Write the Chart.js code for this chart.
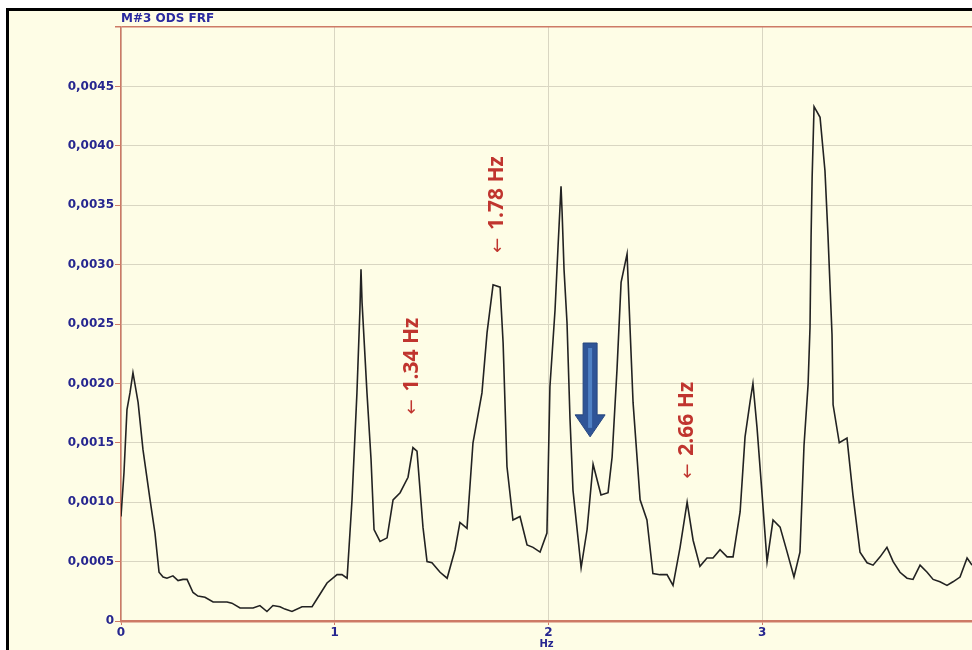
<!DOCTYPE html>
<html>
<head>
<meta charset="utf-8">
<script src="https://cdn.jsdelivr.net/npm/chart.js@4/dist/chart.umd.min.js"></script>
<style>
  html, body { margin: 0; padding: 0; background: #fff; }
  #wrap { position: relative; width: 972px; height: 650px; overflow: hidden; }
  #frame { position: absolute; left: 6px; top: 8px; width: 1000px; height: 700px;
           background: #FEFDE6; border-left: 3px solid #000; border-top: 3px solid #000; }
  canvas { position: absolute; left: 0; top: 0; }
</style>
</head>
<body>
<div id="wrap">
  <div id="frame"></div>
  <canvas id="frf" width="972" height="650"></canvas>
</div>
<script>
// chart data
const chartTitle = 'M#3 ODS FRF';
const xAxisTitle = 'Hz';

const freqHz = [
  0.000, 0.014, 0.028, 0.042, 0.056, 0.080, 0.103, 0.136, 0.159, 0.178,
  0.197, 0.215, 0.243, 0.267, 0.290, 0.309, 0.337, 0.360, 0.393, 0.431,
  0.496, 0.519, 0.557, 0.618, 0.650, 0.683, 0.711, 0.744, 0.767, 0.800,
  0.847, 0.894, 0.922, 0.964, 1.011, 1.034, 1.058, 1.081, 1.104, 1.118,
  1.123, 1.128, 1.151, 1.170, 1.184, 1.212, 1.245, 1.273, 1.306, 1.343,
  1.366, 1.385, 1.413, 1.432, 1.455, 1.493, 1.526, 1.563, 1.586, 1.619,
  1.647, 1.689, 1.713, 1.741, 1.774, 1.788, 1.806, 1.834, 1.867, 1.900,
  1.928, 1.961, 1.993, 2.007, 2.031, 2.045, 2.059, 2.064, 2.073, 2.087,
  2.101, 2.115, 2.153, 2.181, 2.209, 2.246, 2.279, 2.298, 2.321, 2.340,
  2.368, 2.377, 2.396, 2.429, 2.461, 2.489, 2.522, 2.555, 2.583, 2.616,
  2.649, 2.677, 2.709, 2.742, 2.770, 2.803, 2.836, 2.864, 2.897, 2.920,
  2.944, 2.957, 2.976, 3.000, 3.023, 3.051, 3.084, 3.117, 3.149, 3.177,
  3.196, 3.215, 3.224, 3.229, 3.234, 3.243, 3.271, 3.294, 3.308, 3.327,
  3.332, 3.361, 3.397, 3.425, 3.458, 3.491, 3.519, 3.552, 3.584, 3.613,
  3.645, 3.678, 3.706, 3.739, 3.772, 3.800, 3.832, 3.865, 3.893, 3.926,
  3.959, 3.982
];

const amplitude = [
  0.00088, 0.00125, 0.00178, 0.00192, 0.00209, 0.00184, 0.00144, 0.00102, 0.00074, 0.00041,
  0.00037, 0.00036, 0.00038, 0.00034, 0.00035, 0.00035, 0.00024, 0.00021, 0.00020, 0.00016,
  0.00016, 0.00015, 0.00011, 0.00011, 0.00013, 0.00008, 0.00013, 0.00012, 0.00010, 0.00008,
  0.00012, 0.00012, 0.00020, 0.00032, 0.00039, 0.00039, 0.00036, 0.00102, 0.00192, 0.00262,
  0.00296, 0.00268, 0.00192, 0.00136, 0.00077, 0.00067, 0.00070, 0.00102, 0.00108, 0.00121,
  0.00146, 0.00143, 0.00079, 0.00050, 0.00049, 0.00041, 0.00036, 0.00060, 0.00083, 0.00078,
  0.00150, 0.00192, 0.00243, 0.00283, 0.00281, 0.00234, 0.00130, 0.00085, 0.00088, 0.00064,
  0.00062, 0.00058, 0.00074, 0.00197, 0.00262, 0.00315, 0.00366, 0.00344, 0.00296, 0.00251,
  0.00170, 0.00110, 0.00045, 0.00077, 0.00132, 0.00106, 0.00108, 0.00138, 0.00212, 0.00285,
  0.00309, 0.00268, 0.00184, 0.00102, 0.00085, 0.00040, 0.00039, 0.00039, 0.00030, 0.00062,
  0.00100, 0.00068, 0.00046, 0.00053, 0.00053, 0.00060, 0.00054, 0.00054, 0.00092, 0.00155,
  0.00185, 0.00200, 0.00163, 0.00106, 0.00050, 0.00085, 0.00079, 0.00058, 0.00037, 0.00058,
  0.00148, 0.00199, 0.00247, 0.00323, 0.00374, 0.00433, 0.00424, 0.00379, 0.00325, 0.00241,
  0.00182, 0.00150, 0.00154, 0.00106, 0.00058, 0.00049, 0.00047, 0.00054, 0.00062, 0.00050,
  0.00041, 0.00036, 0.00035, 0.00047, 0.00041, 0.00035, 0.00033, 0.00030, 0.00033, 0.00037,
  0.00053, 0.00047
];

const xMin = 0, xMax = 3.982, xStep = 1;
const yMin = 0, yMax = 0.005, yStep = 0.0005;

// red peak notes (label, Hz, amplitude where the arrow starts)
const noteLabels = ['1.34 Hz', '1.78 Hz', '2.66 Hz'];
const noteHz = [1.36, 1.76, 2.65];
const noteAmp = [0.00174, 0.0031, 0.0012];

// blue down arrow
const markHz = 2.195, markTopAmp = 0.00234, markTipAmp = 0.00155;

const axisRed = '#CD7A66';
const gridGrey = '#D9D6C2';
const labelBlue = '#26268F';

const fmtAmp = v => {
  if (Math.abs(v) < 1e-12) return '0';
  if (v > yMax - 1e-9) return '';
  return v.toFixed(4).replace('.', ',');
};

const notesPlugin = {
  id: 'notes',
  afterDatasetsDraw(chart) {
    const { ctx, chartArea, scales: { x, y } } = chart;
    ctx.save();

    // title above the plot
    ctx.fillStyle = '#2A2AA0';
    ctx.font = 'bold 12px "DejaVu Sans"';
    ctx.textAlign = 'left';
    ctx.textBaseline = 'alphabetic';
    ctx.fillText(chartTitle, chartArea.left, 22);

    // rotated red labels: thin arrow, then bold text
    ctx.fillStyle = '#C0352F';
    ctx.textBaseline = 'middle';
    noteLabels.forEach((txt, i) => {
      ctx.save();
      ctx.translate(x.getPixelForValue(noteHz[i]), y.getPixelForValue(noteAmp[i]));
      ctx.rotate(-Math.PI / 2);
      ctx.font = '18px "DejaVu Sans"';
      ctx.fillText('\u2190', 0, 1);
      const aw = ctx.measureText('\u2190 ').width;
      ctx.font = 'bold 21px "Open Sans"';
      ctx.fillText(txt, aw + 2, 0);
      ctx.restore();
    });

    // blue block arrow
    const ax = x.getPixelForValue(markHz);
    const top = y.getPixelForValue(markTopAmp);
    const tip = y.getPixelForValue(markTipAmp);
    const headH = 22, shaftW = 7, headW = 15;
    ctx.beginPath();
    ctx.moveTo(ax - shaftW, top);
    ctx.lineTo(ax + shaftW, top);
    ctx.lineTo(ax + shaftW, tip - headH);
    ctx.lineTo(ax + headW, tip - headH);
    ctx.lineTo(ax, tip);
    ctx.lineTo(ax - headW, tip - headH);
    ctx.lineTo(ax - shaftW, tip - headH);
    ctx.closePath();
    ctx.fillStyle = '#2F5597';
    ctx.fill();
    ctx.strokeStyle = '#26467E';
    ctx.lineWidth = 1;
    ctx.stroke();
    ctx.fillStyle = '#4F81C4';
    ctx.fillRect(ax - 2, top + 5, 4, tip - top - 14);

    ctx.restore();
  }
};

new Chart(document.getElementById('frf'), {
  type: 'line',
  data: {
    datasets: [{
      data: freqHz.map((f, i) => ({ x: f, y: amplitude[i] })),
      borderColor: '#222222',
      borderWidth: 1.6,
      pointRadius: 0,
      tension: 0,
      fill: false
    }]
  },
  options: {
    responsive: false,
    animation: false,
    devicePixelRatio: 1,
    layout: { padding: { top: 27, right: 0, bottom: 0, left: 0 } },
    plugins: { legend: { display: false }, tooltip: { enabled: false } },
    scales: {
      x: {
        type: 'linear',
        min: xMin,
        max: xMax,
        border: { color: axisRed, width: 2.5 },
        grid: { color: gridGrey, lineWidth: 1, tickLength: 4, tickColor: axisRed },
        ticks: {
          stepSize: xStep,
          includeBounds: false,
          autoSkip: false,
          maxRotation: 0,
          padding: 1,
          color: labelBlue,
          font: { family: 'DejaVu Sans', weight: 'bold', size: 12 }
        },
        title: {
          display: true,
          text: xAxisTitle,
          color: labelBlue,
          padding: 0,
          font: { family: 'DejaVu Sans', weight: 'bold', size: 10 }
        },
        afterFit: s => { s.height = 29; }
      },
      y: {
        min: yMin,
        max: yMax,
        border: { color: axisRed, width: 1.5 },
        grid: {
          color: c => (c.tick && c.tick.value > yMax - 1e-9) ? axisRed : gridGrey,
          lineWidth: c => (c.tick && c.tick.value > yMax - 1e-9) ? 1.5 : 1,
          tickLength: 6,
          tickColor: axisRed
        },
        ticks: {
          stepSize: yStep,
          padding: 1,
          color: labelBlue,
          font: { family: 'DejaVu Sans', weight: 'bold', size: 12 },
          callback: fmtAmp
        },
        afterFit: s => { s.width = 121; }
      }
    }
  },
  plugins: [notesPlugin]
});
</script>
</body>
</html>
